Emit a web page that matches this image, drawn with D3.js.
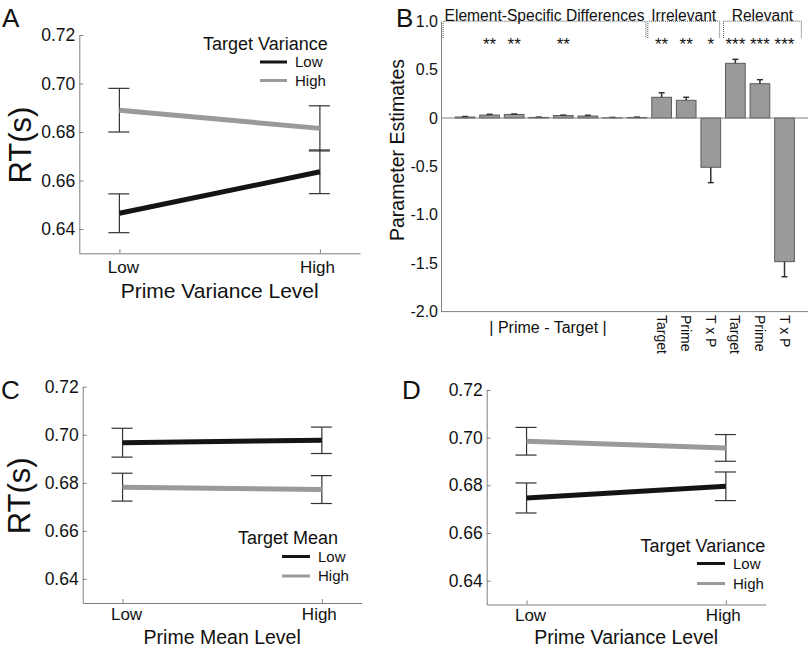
<!DOCTYPE html>
<html>
<head>
<meta charset="utf-8">
<script src="https://cdn.jsdelivr.net/npm/d3@7"></script>
<style>
  html, body { margin: 0; padding: 0; background: #fff; }
  svg { display: block; font-family: "Liberation Sans", Arial, Helvetica, sans-serif; }
</style>
</head>
<body>
<svg id="chart" width="812" height="648"></svg>
<script>
// ---------------- DATA ----------------
const levels = ["Low", "High"];
const yTicksRT = [0.64, 0.66, 0.68, 0.70, 0.72];

// Panel A : Prime Variance Level x Target Variance
const aLowMean  = [0.6465, 0.6636];
const aLowErr   = [0.0080, 0.0090];
const aHighMean = [0.6890, 0.6815];
const aHighErr  = [0.0090, 0.0093];

// Panel C : Prime Mean Level x Target Mean
const cLowMean  = [0.6967, 0.6977];
const cLowErr   = [0.0060, 0.0055];
const cHighMean = [0.6782, 0.6772];
const cHighErr  = [0.0058, 0.0058];

// Panel D : Prime Variance Level x Target Variance
const dLowMean  = [0.6747, 0.6796];
const dLowErr   = [0.0063, 0.0060];
const dHighMean = [0.6985, 0.6957];
const dHighErr  = [0.0058, 0.0056];

// Panel B : parameter estimates
const bLabels = ["", "", "", "", "", "", "", "", "Target", "Prime", "T x P", "Target", "Prime", "T x P"];
const bValues = [0.010, 0.030, 0.037, 0.006, 0.025, 0.020, 0.002, 0.006, 0.214, 0.183, -0.509, 0.565, 0.354, -1.484];
const bErrors = [0.005, 0.008, 0.004, 0.003, 0.005, 0.008, 0.004, 0.003, 0.047, 0.031, 0.159, 0.041, 0.042, 0.156];
const bStars  = ["", "**", "**", "", "**", "", "", "", "**", "**", "*", "***", "***", "***"];
const bGroupNames = ["Element-Specific Differences", "Irrelevant", "Relevant"];
const bGroupFirst = [0, 8, 11];
const bGroupLast  = [7, 10, 13];
const bTicks = [-2, -1.5, -1, -0.5, 0, 0.5, 1];
const bTickLabels = ["-2.0", "-1.5", "-1.0", "-0.5", "0", "0.5", "1.0"];
const bSubLabel = "| Prime - Target |";

// ---------------- STYLE ----------------
const FONT = '"Liberation Sans", Arial, Helvetica, sans-serif';
const AXIS = "#808080";
const BLACK = "#141414";
const GRAY = "#9a9a9a";
const ERR = "#333";

const svg = d3.select("#chart");

function styleAxis(g) {
  g.select(".domain").attr("stroke", AXIS).attr("stroke-width", 1);
  g.selectAll(".tick line").attr("stroke", AXIS);
  g.selectAll(".tick text").attr("fill", "#111").style("font-family", FONT);
}

function linePanel(cfg) {
  const g = svg.append("g");
  const x = d3.scaleLinear().domain([-0.2, 1.2]).range([cfg.x0, cfg.x1]);
  const y = d3.scaleLinear().domain([0.63, 0.72]).range([cfg.yb, cfg.yt]);

  // axes
  const ya = g.append("g").attr("transform", `translate(${cfg.x0},0)`)
    .call(d3.axisLeft(y).tickValues(yTicksRT).tickFormat(d3.format(".2f"))
      .tickSizeInner(-4).tickSizeOuter(0).tickPadding(4));
  ya.selectAll(".tick text").style("font-size", "17.5px");
  styleAxis(ya);

  const xa = g.append("g").attr("transform", `translate(0,${cfg.yb})`)
    .call(d3.axisBottom(x).tickValues([0, 1]).tickFormat(i => levels[i])
      .tickSizeInner(-4).tickSizeOuter(0).tickPadding(cfg.xPad));
  xa.selectAll(".tick text").style("font-size", "17px")
    .attr("dx", (d, i) => (i === 0 ? 3.5 : -3));
  styleAxis(xa);

  // series
  const series = [
    { mean: cfg.lowMean, err: cfg.lowErr, color: BLACK },
    { mean: cfg.highMean, err: cfg.highErr, color: GRAY }
  ];
  const line = d3.line().x((d, i) => x(i)).y(d => y(d));
  series.forEach(s => {
    s.mean.forEach((m, i) => {
      const cx = x(i);
      const eg = g.append("g").attr("stroke", ERR).attr("stroke-width", 1.2);
      eg.append("line").attr("x1", cx).attr("x2", cx).attr("y1", y(m + s.err[i])).attr("y2", y(m - s.err[i]));
      eg.append("line").attr("x1", cx - 11).attr("x2", cx + 10).attr("y1", y(m + s.err[i])).attr("y2", y(m + s.err[i]));
      eg.append("line").attr("x1", cx - 11).attr("x2", cx + 10).attr("y1", y(m - s.err[i])).attr("y2", y(m - s.err[i]));
    });
  });
  series.forEach(s => {
    g.append("path").datum(s.mean).attr("d", line)
      .attr("fill", "none").attr("stroke", s.color).attr("stroke-width", 5);
  });

  // x title
  g.append("text").attr("x", (x(0) + x(1)) / 2).attr("y", cfg.titleY)
    .attr("text-anchor", "middle").style("font-size", cfg.titleSize).attr("fill", "#111")
    .text(cfg.xTitle);

  // y title
  if (cfg.yTitle) {
    g.append("text").attr("transform", `translate(${cfg.yTitleX},${(cfg.yt + cfg.yb) / 2 + 1}) rotate(-90)`)
      .attr("text-anchor", "middle").attr("dy", "0.36em")
      .style("font-size", "31px").attr("fill", "#111").text(cfg.yTitle);
  }

  // legend
  const L = cfg.legend;
  g.append("text").attr("x", L.tx).attr("y", L.ty).style("font-size", "18px").attr("fill", "#111").text(L.title);
  [["Low", BLACK], ["High", GRAY]].forEach((d, k) => {
    const yy = L.ly + k * L.gap;
    g.append("line").attr("x1", L.lx0).attr("x2", L.lx1).attr("y1", yy).attr("y2", yy)
      .attr("stroke", d[1]).attr("stroke-width", 3);
    g.append("text").attr("x", L.lx1 + 8).attr("y", yy).attr("dy", "0.36em")
      .style("font-size", "15px").attr("fill", "#111").text(d[0]);
  });

  // panel letter
  g.append("text").attr("x", cfg.letterX).attr("y", cfg.letterY)
    .style("font-size", "26px").attr("fill", "#111").text(cfg.letter);
}

linePanel({
  x0: 79.3, x1: 360, yt: 35, yb: 253.3, xPad: 8, titleY: 297.5, titleSize: "21px",
  lowMean: aLowMean, lowErr: aLowErr, highMean: aHighMean, highErr: aHighErr,
  xTitle: "Prime Variance Level", yTitle: "RT(s)", yTitleX: 20,
  legend: { title: "Target Variance", tx: 203, ty: 49.5, lx0: 260, lx1: 287, ly: 62, gap: 18.5 },
  letter: "A", letterX: 2, letterY: 26.5
});

linePanel({
  x0: 82.7, x1: 361.7, yt: 386.7, yb: 603, xPad: 5, titleY: 643.5, titleSize: "19.5px",
  lowMean: cLowMean, lowErr: cLowErr, highMean: cHighMean, highErr: cHighErr,
  xTitle: "Prime Mean Level", yTitle: "RT(s)", yTitleX: 19,
  legend: { title: "Target Mean", tx: 238, ty: 543.7, lx0: 282, lx1: 310, ly: 556.5, gap: 19.5 },
  letter: "C", letterX: 1, letterY: 398.5
});

linePanel({
  x0: 486.7, x1: 765.7, yt: 390, yb: 604.5, xPad: 4, titleY: 643.5, titleSize: "19.5px",
  lowMean: dLowMean, lowErr: dLowErr, highMean: dHighMean, highErr: dHighErr,
  xTitle: "Prime Variance Level", yTitle: null,
  legend: { title: "Target Variance", tx: 640.5, ty: 551.5, lx0: 697, lx1: 725, ly: 563.5, gap: 20 },
  letter: "D", letterX: 402, letterY: 398.5
});

// ---------------- PANEL B ----------------
(function () {
  const g = svg.append("g");
  const axX0 = 441, axX1 = 808;
  const y = d3.scaleLinear().domain([-2, 1]).range([311.6, 21.2]);
  const x = d3.scaleBand().domain(d3.range(bValues.length)).range([452.7, 796.8])
    .paddingInner(0.2).paddingOuter(0.1);

  const ya = g.append("g").attr("transform", `translate(${axX0},0)`)
    .call(d3.axisLeft(y).tickValues(bTicks).tickFormat((d, i) => bTickLabels[i])
      .tickSizeInner(0).tickSizeOuter(0).tickPadding(3));
  ya.selectAll(".tick text").style("font-size", "16px");
  styleAxis(ya);

  // bottom axis line
  g.append("line").attr("x1", axX0).attr("x2", axX1).attr("y1", y(-2)).attr("y2", y(-2))
    .attr("stroke", AXIS).attr("stroke-width", 1);

  // bars
  g.selectAll("rect.bar").data(bValues).enter().append("rect")
    .attr("x", (d, i) => x(i)).attr("width", x.bandwidth())
    .attr("y", d => y(Math.max(d, 0))).attr("height", d => Math.abs(y(d) - y(0)))
    .attr("fill", GRAY).attr("stroke", "#5a5a5a").attr("stroke-width", 1);

  // error bars (one-sided)
  bValues.forEach((v, i) => {
    const cx = x(i) + x.bandwidth() / 2;
    const end = v >= 0 ? v + bErrors[i] : v - bErrors[i];
    g.append("line").attr("x1", cx).attr("x2", cx).attr("y1", y(v)).attr("y2", y(end))
      .attr("stroke", ERR).attr("stroke-width", 1.5);
    g.append("line").attr("x1", cx - 3).attr("x2", cx + 3).attr("y1", y(end)).attr("y2", y(end))
      .attr("stroke", ERR).attr("stroke-width", 1.5);
  });

  // zero line
  g.append("line").attr("x1", axX0).attr("x2", axX1).attr("y1", y(0)).attr("y2", y(0))
    .attr("stroke", AXIS).attr("stroke-width", 1);

  // stars
  bStars.forEach((s, i) => {
    if (!s) return;
    g.append("text").attr("x", x(i) + x.bandwidth() / 2).attr("y", 50)
      .attr("text-anchor", "middle").style("font-size", "17px").attr("fill", "#111").text(s);
  });

  // brackets + group titles
  const padL = [12, 4, 2], padR = [-1, -1, 7];
  bGroupNames.forEach((name, k) => {
    const left = x(bGroupFirst[k]) - padL[k];
    const right = x(bGroupLast[k]) + x.bandwidth() + padR[k];
    const top = y(1), bot = 38;
    g.append("path").attr("d", `M${left},${bot}V${top}H${right}V${bot}`)
      .attr("fill", "none").attr("stroke", "#555").attr("stroke-width", 1)
      .attr("stroke-dasharray", "1,1");
    g.append("text").attr("x", (left + right) / 2).attr("y", 20.5)
      .attr("text-anchor", "middle").style("font-size", "15.6px").attr("fill", "#111").text(name);
  });

  // category labels
  bLabels.forEach((t, i) => {
    if (!t) return;
    g.append("text")
      .attr("transform", `translate(${x(i) + x.bandwidth() / 2},315) rotate(90)`)
      .attr("dy", "0.35em").style("font-size", "14px").attr("fill", "#111").text(t);
  });
  const firstC = x(bGroupFirst[0]), lastC = x(bGroupLast[0]) + x.bandwidth();
  g.append("text").attr("x", (firstC + lastC) / 2 - 3).attr("y", 332.5)
    .attr("text-anchor", "middle").style("font-size", "16px").attr("fill", "#111").text(bSubLabel);

  // y title
  g.append("text").attr("transform", `translate(397,150) rotate(-90)`)
    .attr("text-anchor", "middle").attr("dy", "0.36em")
    .style("font-size", "19.5px").attr("fill", "#111").text("Parameter Estimates");

  g.append("text").attr("x", 396).attr("y", 27).style("font-size", "26px").attr("fill", "#111").text("B");
})();
</script>
</body>
</html>
